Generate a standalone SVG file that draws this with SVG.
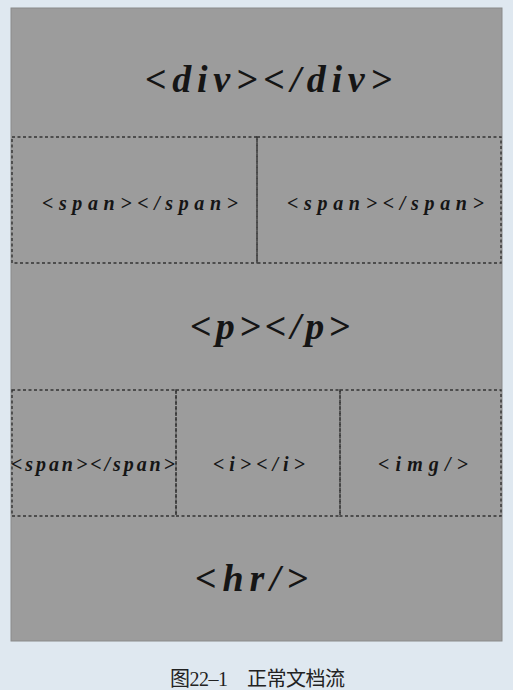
<svg xmlns="http://www.w3.org/2000/svg" width="513" height="690" viewBox="0 0 513 690">
<style>
.big{font-family:"Liberation Serif","DejaVu Serif",serif;font-style:italic;font-weight:bold;font-size:38px;fill:#151515}
.sm{font-family:"Liberation Serif","DejaVu Serif",serif;font-style:italic;font-weight:bold;font-size:20px;fill:#151515}
.box{fill:none;stroke:#333;stroke-width:1.4;stroke-dasharray:3,2.5}
.cap{font-family:"Liberation Serif","Noto Sans CJK SC",serif;font-size:20px;fill:#222}
</style>
<rect x="0" y="0" width="513" height="690" fill="#dfe8f0"/>
<rect x="11" y="8" width="491" height="633" fill="#9c9c9c" stroke="#8a8a8a" stroke-width="1"/>
<g id="div"><text class="big" x="145" y="92" textLength="247" lengthAdjust="spacing">&lt;div&gt;&lt;/div&gt;</text></g>
<g id="span1"><rect class="box" x="12" y="137" width="245" height="126"/><text class="sm" x="42" y="210" textLength="196" lengthAdjust="spacing">&lt;span&gt;&lt;/span&gt;</text></g>
<g id="span2"><rect class="box" x="257" y="137" width="244" height="126"/><text class="sm" x="287" y="210" textLength="197" lengthAdjust="spacing">&lt;span&gt;&lt;/span&gt;</text></g>
<g id="p"><text class="big" x="190" y="339" textLength="160" lengthAdjust="spacing">&lt;p&gt;&lt;/p&gt;</text></g>
<g id="span3"><rect class="box" x="12" y="390" width="164" height="126"/><text class="sm" x="11" y="471" textLength="164" lengthAdjust="spacing">&lt;span&gt;&lt;/span&gt;</text></g>
<g id="i"><rect class="box" x="176" y="390" width="164" height="126"/><text class="sm" x="213" y="471" textLength="92" lengthAdjust="spacing">&lt;i&gt;&lt;/i&gt;</text></g>
<g id="img"><rect class="box" x="340" y="390" width="161" height="126"/><text class="sm" x="378" y="471" textLength="90" lengthAdjust="spacing">&lt;img/&gt;</text></g>
<g id="hr"><text class="big" x="195" y="591" textLength="113" lengthAdjust="spacing">&lt;hr/&gt;</text></g>
<g id="connectors"></g>
<text class="cap" x="170" y="686" textLength="175" lengthAdjust="spacing">图22–1　正常文档流</text>
</svg>
